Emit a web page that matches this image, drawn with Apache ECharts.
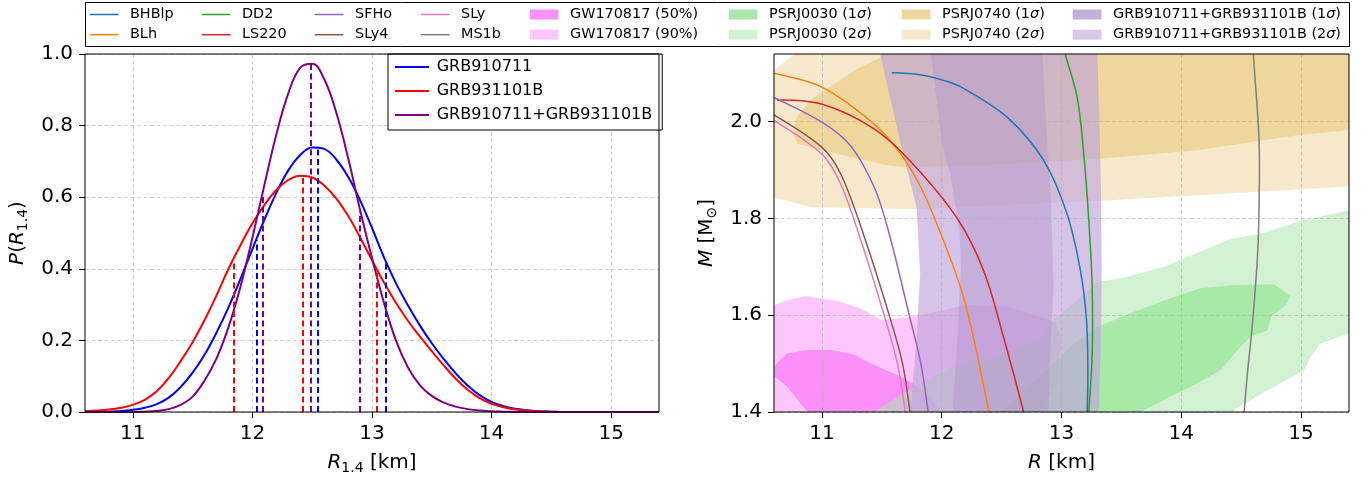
<!DOCTYPE html>
<html><head><meta charset="utf-8">
<script src="https://cdn.jsdelivr.net/npm/echarts@6.0.0/dist/echarts.min.js"></script>
<style>html,body{margin:0;padding:0;background:#fff}#c{width:1367px;height:480px}</style>
</head><body><div id="c"></div><script>
// ---------- data: left panel (posterior of R_1.4) ----------
const rGrid = [10.6,10.7,10.8,10.9,11.0,11.1,11.2,11.3,11.4,11.5,11.6,11.7,11.8,11.9,12.0,12.1,12.2,12.3,12.4,12.5,12.6,12.7,12.8,12.9,13.0,13.1,13.2,13.3,13.4,13.5,13.6,13.7,13.8,13.9,14.0,14.1,14.2,14.3,14.4,14.5,14.6,14.7,14.8,14.9,15.0,15.1,15.2,15.3,15.4];
const pGRB910711 = [0.000,0.001,0.001,0.003,0.006,0.012,0.022,0.040,0.070,0.110,0.160,0.222,0.292,0.372,0.455,0.537,0.612,0.675,0.718,0.739,0.735,0.706,0.657,0.592,0.514,0.432,0.360,0.298,0.242,0.192,0.148,0.108,0.074,0.047,0.028,0.016,0.009,0.005,0.002,0.001,0,0,0,0,0,0,0,0,0];
const pGRB931101B = [0.002,0.004,0.007,0.012,0.020,0.034,0.058,0.095,0.142,0.195,0.257,0.326,0.400,0.466,0.527,0.578,0.620,0.648,0.660,0.655,0.633,0.597,0.548,0.488,0.424,0.362,0.305,0.255,0.211,0.170,0.130,0.093,0.062,0.039,0.023,0.013,0.007,0.004,0.002,0.001,0,0,0,0,0,0,0,0,0];
const pCombined = [0,0,0,0,0,0.001,0.003,0.008,0.020,0.043,0.088,0.150,0.237,0.350,0.487,0.634,0.775,0.890,0.962,0.973,0.930,0.838,0.710,0.565,0.430,0.305,0.200,0.125,0.075,0.045,0.026,0.015,0.008,0.004,0.002,0.001,0,0,0,0,0,0,0,0,0,0,0,0,0];
// credible-interval markers: [lower, median, upper] and the curve height there
const ciGRB910711 = [12.035, 12.55, 13.117];
const hGRB910711 = [0.48, 0.737, 0.42];
const ciGRB931101B = [11.846, 12.42, 13.04];
const hGRB931101B = [0.42, 0.66, 0.39];
const ciCombined = [12.09, 12.487, 12.90];
const hCombined = [0.61, 0.972, 0.56];

// ---------- data: right panel (M-R), [R km, M Msun] ----------
const eosBHBlp = [[11.584,2.101],[11.82,2.097],[12.072,2.081],[12.211,2.065],[12.557,2.007],[12.849,1.921],[13.047,1.809],[13.158,1.692],[13.209,1.589],[13.220,1.485],[13.215,1.40],[13.213,1.38]];
const eosBLh = [[10.4,2.107],[10.6,2.100],[11.004,2.071],[11.436,1.995],[11.659,1.933],[11.826,1.864],[11.993,1.768],[12.189,1.631],[12.396,1.40],[12.41,1.38]];
const eosDD2 = [[12.991,2.175],[13.033,2.138],[13.131,2.05],[13.186,1.933],[13.228,1.795],[13.256,1.658],[13.256,1.52],[13.228,1.40],[13.222,1.38]];
const eosLS220 = [[10.625,2.045],[11.004,2.036],[11.436,1.985],[11.754,1.914],[12.130,1.800],[12.350,1.692],[12.517,1.554],[12.684,1.40],[12.69,1.385]];
const eosSFHo = [[10.45,2.066],[10.6,2.05],[11.0,1.999],[11.24,1.95],[11.436,1.865],[11.56,1.77],[11.729,1.60],[11.826,1.50],[11.887,1.40],[11.9,1.375]];
const eosSLy4 = [[10.3,2.043],[10.45,2.031],[10.6,2.014],[11.0,1.947],[11.157,1.892],[11.34,1.772],[11.562,1.60],[11.673,1.50],[11.737,1.398],[11.75,1.375]];
const eosSLy = [[10.3,2.035],[10.45,2.021],[10.6,2.003],[11.0,1.933],[11.15,1.875],[11.297,1.776],[11.52,1.60],[11.63,1.50],[11.697,1.40],[11.71,1.375]];
const eosMS1b = [[14.59,2.2],[14.602,2.138],[14.649,1.962],[14.649,1.824],[14.636,1.721],[14.594,1.583],[14.552,1.48],[14.524,1.40],[14.518,1.38]];

const regPSRJ0740_2s = [[10.5,2.085],[10.6,2.106],[10.77,2.14],[10.8,2.2],[15.5,2.2],[15.5,1.868],[15.4,1.866],[14.134,1.848],[13.3,1.836],[12.5,1.828],[11.8,1.819],[10.91,1.823],[10.6,1.844],[10.5,1.846]];
const regPSRJ0740_1s = [[10.76,1.975],[10.79,2.01],[10.93,2.05],[11.1,2.078],[11.3,2.11],[11.49,2.133],[11.52,2.2],[15.5,2.2],[15.5,1.984],[15.4,1.983],[14.97,1.972],[14.13,1.941],[13.33,1.924],[12.5,1.912],[11.72,1.906],[11.575,1.909],[11.38,1.919],[11.02,1.94],[10.8,1.954]];
const regGW90 = [[10.5,1.62],[10.6,1.621],[10.71,1.631],[10.865,1.64],[11.157,1.628],[11.35,1.611],[11.49,1.59],[11.715,1.596],[12.0,1.61],[12.21,1.621],[12.546,1.618],[12.824,1.597],[12.95,1.585],[13.0,1.55],[12.95,1.45],[12.8,1.38],[10.5,1.38]];
const regGW50 = [[10.6,1.49],[10.62,1.50],[10.71,1.521],[10.88,1.528],[11.09,1.528],[11.27,1.518],[11.436,1.497],[11.66,1.473],[11.76,1.459],[11.9,1.43],[12.0,1.40],[12.05,1.38],[10.9,1.38],[10.88,1.40],[10.71,1.452],[10.6,1.475]];
const regPSRJ0030_2s = [[11.2,1.38],[11.40,1.395],[11.77,1.452],[12.07,1.492],[12.5,1.52],[12.82,1.55],[12.907,1.585],[13.09,1.623],[13.3,1.669],[13.49,1.676],[13.855,1.70],[14.19,1.735],[14.41,1.757],[14.69,1.77],[14.97,1.793],[15.4,1.817],[15.5,1.82],[15.5,1.56],[15.4,1.563],[15.165,1.542],[15.08,1.514],[15.03,1.487],[14.75,1.449],[14.44,1.404],[14.42,1.38]];
const regPSRJ0030_1s = [[12.4,1.38],[12.8,1.47],[13.1,1.54],[13.3,1.576],[13.576,1.604],[13.91,1.635],[14.16,1.656],[14.41,1.662],[14.775,1.664],[14.914,1.638],[14.86,1.618],[14.75,1.597],[14.72,1.569],[14.58,1.556],[14.47,1.528],[14.33,1.487],[14.13,1.459],[13.91,1.432],[13.66,1.40],[13.62,1.38]];
const regGRB_2s = [[11.47,2.2],[11.486,2.14],[11.65,1.962],[11.70,1.912],[11.79,1.824],[11.82,1.687],[11.79,1.549],[11.737,1.40],[11.73,1.38],[13.31,1.38],[13.31,1.40],[13.33,1.55],[13.335,1.70],[13.33,1.85],[13.32,1.962],[13.30,2.14],[13.30,2.2]];
const regGRB_1s = [[11.89,2.2],[11.91,2.14],[12.0,1.96],[12.07,1.893],[12.15,1.77],[12.16,1.70],[12.13,1.55],[12.09,1.40],[12.085,1.38],[12.89,1.38],[12.89,1.40],[12.91,1.55],[12.935,1.658],[12.907,1.864],[12.87,2.0],[12.84,2.14],[12.84,2.2]];

const xTicks = [11,12,13,14,15];
const yTicksRight = [1.4,1.6,1.8,2.0];

// ---------- styling ----------
const FONT = 'DejaVu Sans';
const gridLine = {show:true, lineStyle:{type:[4,2.5], color:'rgba(176,176,176,0.6)', width:1}};
const richName = {
  i:{fontStyle:'italic', fontFamily:FONT, fontSize:20, lineHeight:24, color:'#000'},
  n:{fontFamily:FONT, fontSize:20, lineHeight:24, color:'#000'},
  s:{fontFamily:FONT, fontSize:14, lineHeight:14, verticalAlign:'bottom', color:'#000'}
};
function xAx(idx, name, z){
  return {gridIndex:idx, type:'value', min:10.6, max:15.4, z:z,
    axisLine:{show:false},
    axisTick:{show:true, inside:false, length:6, lineStyle:{color:'#000', width:1}, customValues:xTicks},
    axisLabel:{customValues:xTicks, fontFamily:FONT, fontSize:20, color:'#000', margin:12, formatter:v=>String(Math.round(v))},
    splitLine:gridLine,
    name:name, nameLocation:'middle', nameGap:39,
    nameTextStyle:{fontFamily:FONT, fontSize:20, color:'#000', rich:richName}};
}

const regionFill = {
  'PSRJ0740 (2σ)':'#f6e8cb', 'PSRJ0740 (1σ)':'#efd69c',
  'GW170817 (90%)':'#fdc6fd', 'GW170817 (50%)':'#fb90f8',
  'PSRJ0030 (2σ)':'rgba(175,230,175,0.56)', 'PSRJ0030 (1σ)':'rgba(110,222,110,0.42)',
  'GRB910711+GRB931101B (2σ)':'rgba(190,165,220,0.65)', 'GRB910711+GRB931101B (1σ)':'rgba(175,145,200,0.4)'
};
const legendFill = {
  'PSRJ0740 (2σ)':'#f6e8cb', 'PSRJ0740 (1σ)':'#efd69c',
  'GW170817 (90%)':'#fdc6fd', 'GW170817 (50%)':'#fb90f8',
  'PSRJ0030 (2σ)':'#d3f1d3', 'PSRJ0030 (1σ)':'#a9e8a9',
  'GRB910711+GRB931101B (2σ)':'#d9c9e9', 'GRB910711+GRB931101B (1σ)':'#c4aedc'
};
const eosColor = {BHBlp:'#1f77b4', BLh:'#ff7f0e', DD2:'#2ca02c', LS220:'#d62728', SFHo:'#9467bd', SLy4:'#8c564b', SLy:'#e377c2', MS1b:'#7f7f7f'};

function region(name, pts){
  return {type:'custom', name:name, xAxisIndex:1, yAxisIndex:1, data:pts, clip:true, z:2, silent:true,
    itemStyle:{color:legendFill[name]},
    renderItem:(params, api)=>{
      if (params.dataIndex !== 0) return null;
      return {type:'polygon', shape:{points:pts.map(p=>api.coord(p))}, style:{fill:regionFill[name]}, silent:true};
    }};
}
function eos(name, pts){
  const color = eosColor[name];
  return {type:'custom', name:name, xAxisIndex:1, yAxisIndex:1, data:pts, clip:true, z:4, silent:true,
    itemStyle:{color:color},
    renderItem:(params, api)=>{
      if (params.dataIndex !== 0) return null;
      return {type:'polyline', shape:{points:pts.map(p=>api.coord(p)), smooth:0.35},
        style:{stroke:color, lineWidth:1.5, fill:'none'}, silent:true};
    }};
}
function pdf(name, vals, ci, h, color){
  return {type:'line', name:name, xAxisIndex:0, yAxisIndex:0, data:rGrid.map((r,i)=>[r, vals[i]]),
    symbol:'none', showSymbol:false, smooth:0.4, clip:true, silent:true,
    lineStyle:{color:color, width:2}, itemStyle:{color:color},
    markLine:{silent:true, symbol:['none','none'], label:{show:false},
      lineStyle:{color:color, width:2, type:[6,3.5]},
      data:ci.map((x,i)=>[{coord:[x,0]},{coord:[x,h[i]]}])}};
}
function lineItem(n){ return {name:n, itemStyle:{opacity:0}}; }
function topItem(n){
  if (legendFill[n]) return {name:n, icon:'rect', itemStyle:{color:legendFill[n], borderWidth:0}};
  return {name:n, icon:'path://M0,0L40,0L40,2.1L0,2.1Z', itemStyle:{color:eosColor[n], borderWidth:0}};
}

const topCols = [
  ['BHBlp','BLh'], ['DD2','LS220'], ['SFHo','SLy4'], ['SLy','MS1b'],
  ['GW170817 (50%)','GW170817 (90%)'], ['PSRJ0030 (1σ)','PSRJ0030 (2σ)'],
  ['PSRJ0740 (1σ)','PSRJ0740 (2σ)'], ['GRB910711+GRB931101B (1σ)','GRB910711+GRB931101B (2σ)']
];
const topTextX = [130, 242, 355, 461, 570, 769, 942, 1113];
const topLegends = topCols.map((names,k)=>({
  orient:'vertical', left:topTextX[k]-40.3, top:7.5, padding:0, itemGap:6.2,
  itemWidth:28.8, itemHeight:10, selectedMode:false, z:5, symbolKeepAspect:true,
  data:names.map(topItem),
  formatter:n=>n.replace('σ','{i|σ}'),
  textStyle:{fontFamily:FONT, fontSize:14.4, lineHeight:14, color:'#000', padding:[0,0,0,6.5],
    rich:{i:{fontStyle:'italic', fontFamily:FONT, fontSize:14.4, lineHeight:14, color:'#000'}}}
}));

const option = {
  animation:false,
  backgroundColor:'#fff',
  graphic:[{type:'rect', shape:{x:85.5, y:2.5, width:1264, height:44}, style:{fill:'#fff', stroke:'#000', lineWidth:1}, z:1, silent:true}],
  grid:[
    {left:85, top:54, width:574, height:358, show:true, borderColor:'#000', borderWidth:1, backgroundColor:'transparent', z:6},
    {left:774, top:54, width:575, height:358, show:true, borderColor:'#000', borderWidth:1, backgroundColor:'transparent', z:6}
  ],
  xAxis:[ xAx(0, '{i|R}{s|1.4}{n| [km]}', 0), xAx(1, '{i|R}{n| [km]}', 3) ],
  yAxis:[
    {gridIndex:0, type:'value', min:0, max:1, interval:0.2,
      axisLine:{show:false},
      axisTick:{show:true, inside:false, length:6, lineStyle:{color:'#000', width:1}},
      axisLabel:{fontFamily:FONT, fontSize:20, color:'#000', margin:12, formatter:v=>v.toFixed(1)},
      splitLine:gridLine,
      name:'{i|P}{n|(}{i|R}{s|1.4}{n|)}', nameLocation:'middle', nameGap:55,
      nameTextStyle:{fontFamily:FONT, fontSize:20, color:'#000', rich:richName}},
    {gridIndex:1, type:'value', min:1.4, max:2.14, interval:0.2, z:3,
      axisLine:{show:false},
      axisTick:{show:true, inside:false, length:6, lineStyle:{color:'#000', width:1}, customValues:yTicksRight},
      axisLabel:{customValues:yTicksRight, fontFamily:FONT, fontSize:20, color:'#000', margin:12, formatter:v=>v.toFixed(1)},
      splitLine:gridLine,
      name:'{i|M}{n| [M}{s|⊙}{n|]}', nameLocation:'middle', nameGap:55,
      nameTextStyle:{fontFamily:FONT, fontSize:20, color:'#000', rich:richName}}
  ],
  legend:[
    {orient:'vertical', left:388, top:54, padding:[5,10,7,6], itemGap:8, itemWidth:34, itemHeight:12,
      backgroundColor:'#fff', borderColor:'#000', borderWidth:1, borderRadius:0, selectedMode:false, z:5,
      data:['GRB910711','GRB931101B','GRB910711+GRB931101B'].map(lineItem),
      textStyle:{fontFamily:FONT, fontSize:16, lineHeight:16, color:'#000', padding:[0,0,0,2.7]}},
    ...topLegends
  ],
  series:[
    pdf('GRB910711', pGRB910711, ciGRB910711, hGRB910711, '#0000ff'),
    pdf('GRB931101B', pGRB931101B, ciGRB931101B, hGRB931101B, '#ff0000'),
    pdf('GRB910711+GRB931101B', pCombined, ciCombined, hCombined, '#800080'),
    region('PSRJ0740 (2σ)', regPSRJ0740_2s),
    region('PSRJ0740 (1σ)', regPSRJ0740_1s),
    region('GW170817 (90%)', regGW90),
    region('GW170817 (50%)', regGW50),
    region('PSRJ0030 (2σ)', regPSRJ0030_2s),
    region('PSRJ0030 (1σ)', regPSRJ0030_1s),
    region('GRB910711+GRB931101B (2σ)', regGRB_2s),
    region('GRB910711+GRB931101B (1σ)', regGRB_1s),
    eos('BHBlp', eosBHBlp),
    eos('BLh', eosBLh),
    eos('DD2', eosDD2),
    eos('LS220', eosLS220),
    eos('SFHo', eosSFHo),
    eos('SLy4', eosSLy4),
    eos('SLy', eosSLy),
    eos('MS1b', eosMS1b)
  ]
};
const chart = echarts.init(document.getElementById('c'), null, {renderer:'canvas'});
chart.setOption(option);
</script></body></html>
